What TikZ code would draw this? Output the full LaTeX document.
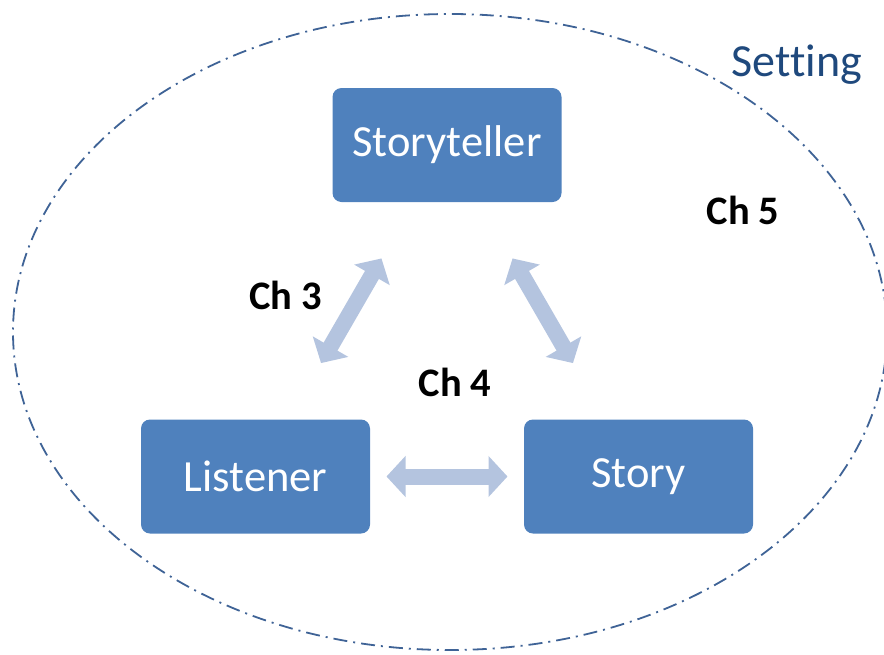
\documentclass[tikz,border=0pt]{standalone}
\usepackage{fontspec}
\setmainfont{Carlito}[RawFeature={-liga}]
\usetikzlibrary{arrows.meta}

\definecolor{boxblue}{HTML}{4F81BD}
\definecolor{linkblue}{HTML}{B4C4DF}
\definecolor{ringblue}{HTML}{3F6396}
\definecolor{settingblue}{HTML}{1F497D}

\tikzset{
    role/.style={rectangle, rounded corners=9pt, fill=boxblue, text=white,
        minimum width=229pt, minimum height=114pt, font=\fontsize{44.5}{50}\selectfont},
    link/.style={linkblue, line width=16pt,
        {Triangle[length=19pt,width=40pt]}-{Triangle[length=19pt,width=40pt]},
        shorten <=131pt, shorten >=131pt},
    chapter/.style={font=\fontsize{40.5}{46}\selectfont\bfseries}
}

\begin{document}
\begin{tikzpicture}[x=1pt, y=-1pt]
    \useasboundingbox (0,0) rectangle (884,654);
    \clip (0,0) rectangle (884,654);

    % Setting
    \draw[ringblue, line width=1.8pt, dash pattern=on 14pt off 6pt on 2pt off 6pt]
        (450,332) ellipse [x radius=437, y radius=318];
    \node[settingblue, font=\fontsize{46}{52}\selectfont] (setting) at (797,65) {Setting};

    % Roles
    \node[role] (storyteller) at (447,145) {Storyteller};
    \node[role] (listener) at (255.5,476.5) {Listener};
    \node[role] (story) at (638.5,476.5) {Story};

    % Links between roles
    \draw[link] (listener.center) -- (storyteller.center);
    \draw[link] (story.center) -- (storyteller.center);
    \draw[link] (listener.center) -- (story.center);

    % Chapters
    \node[chapter] (ch3) at (285.5,295) {Ch 3};
    \node[chapter] (ch4) at (455,382) {Ch 4};
    \node[chapter] (ch5) at (743,210) {Ch 5};
\end{tikzpicture}
\end{document}
